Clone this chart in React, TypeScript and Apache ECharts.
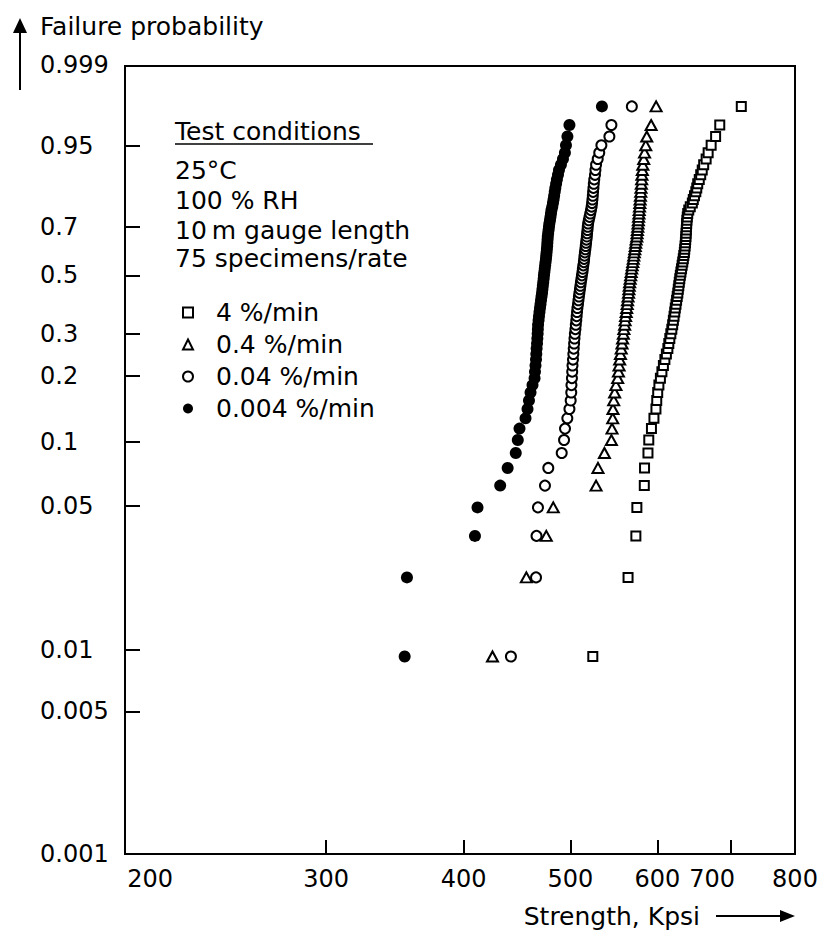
import React, { useEffect, useRef } from "react";
import * as echarts from "echarts";

// ---- data (strength in kpsi, sorted ascending; 75 specimens per rate) ----
const SPECIMENS = 75;
const seriesNames = ["4 %/min", "0.4 %/min", "0.04 %/min", "0.004 %/min"];

const strength4 = [
  524.1, 564.2, 573.5, 574.7, 583.7, 584.0, 588.2, 589.2, 592.5, 595.6,
  598.1, 599.1, 600.3, 601.8, 603.7, 605.6, 607.5, 609.4, 611.3, 613.2,
  614.4, 615.7, 617.0, 618.3, 619.4, 620.3, 621.2, 622.1, 622.8, 623.7,
  624.5, 625.3, 626.1, 626.7, 627.4, 628.0, 628.7, 629.4, 630.2, 631.0,
  631.8, 632.6, 633.3, 634.0, 634.7, 635.2, 635.7, 636.1, 636.5, 636.8,
  637.0, 637.3, 637.6, 637.8, 638.1, 638.6, 639.2, 640.6, 642.6, 645.4,
  646.7, 648.3, 650.1, 651.4, 652.7, 654.8, 656.8, 658.9, 660.9, 664.3,
  667.1, 671.3, 677.6, 683.5, 715.0,
];
const strength04 = [
  424.9, 456.1, 475.5, 482.5, 527.7, 529.8, 537.0, 544.9, 545.6, 546.4,
  546.7, 547.5, 548.6, 550.1, 552.1, 553.0, 553.7, 554.4, 555.3, 556.2,
  557.1, 557.8, 558.7, 559.3, 560.2, 560.7, 561.3, 562.0, 562.6, 563.2,
  563.6, 564.2, 564.8, 565.2, 565.6, 566.1, 566.7, 567.3, 567.9, 568.5,
  569.1, 569.8, 570.4, 571.0, 571.6, 572.2, 572.8, 573.3, 573.8, 574.6,
  574.9, 575.3, 575.8, 576.1, 576.5, 576.8, 577.2, 577.5, 577.9, 578.3,
  578.6, 579.0, 579.4, 579.7, 580.1, 580.5, 580.8, 581.3, 581.9, 583.0,
  584.0, 585.5, 586.7, 592.1, 598.3,
];
const strength004 = [
  441.6, 465.4, 465.9, 467.3, 474.2, 477.5, 491.1, 493.5, 494.5, 496.9,
  499.1, 500.4, 501.0, 501.2, 501.7, 502.0, 502.3, 502.8, 503.2, 503.6,
  504.0, 504.4, 504.8, 505.4, 505.8, 506.3, 506.7, 507.1, 507.5, 508.1,
  508.6, 509.1, 509.6, 510.2, 510.7, 511.2, 511.8, 512.3, 512.9, 513.3,
  513.8, 514.4, 514.7, 515.1, 515.5, 516.0, 516.4, 516.8, 517.2, 517.6,
  517.9, 518.3, 518.6, 519.0, 519.7, 520.5, 521.3, 522.1, 522.8, 523.3,
  523.7, 524.1, 524.4, 524.8, 525.2, 525.7, 526.5, 527.0, 527.7, 529.5,
  531.2, 533.6, 542.6, 544.9, 568.7,
];
const strength0004 = [
  353.6, 355.3, 409.6, 411.8, 431.8, 438.6, 446.1, 448.0, 449.6, 455.3,
  457.2, 458.6, 460.1, 462.0, 464.0, 464.4, 464.9, 465.4, 465.7, 466.0,
  466.4, 466.7, 467.0, 467.2, 467.4, 467.9, 468.3, 468.8, 469.3, 469.8,
  470.3, 470.8, 471.3, 471.7, 472.1, 472.5, 472.9, 473.2, 473.6, 474.0,
  474.4, 474.8, 475.2, 475.5, 475.8, 476.1, 476.4, 476.6, 476.8, 477.0,
  477.4, 477.8, 478.2, 478.6, 479.2, 479.7, 480.2, 480.7, 481.5, 482.2,
  482.8, 483.4, 484.0, 484.6, 485.4, 486.2, 487.3, 488.3, 490.3, 492.4,
  494.4, 495.5, 497.0, 499.1, 534.2,
];

const probLabels = [0.999, 0.95, 0.7, 0.5, 0.3, 0.2, 0.1, 0.05, 0.01, 0.005, 0.001];
const probTickMarks = [0.95, 0.7, 0.5, 0.3, 0.2, 0.1, 0.05, 0.01, 0.005];
const strengthLabels = [200, 300, 400, 500, 600, 700, 800];
const strengthTickMarks = [300, 400, 500, 600, 700];
const conditionLines = ["25°C", "100 % RH", "10\u2009m gauge length", "75 specimens/rate"];

// ---- scales ----
const weibull = (F: number) => Math.log(-Math.log(1 - F));
const medianRank = (i: number, n: number) => (i - 0.3) / (n + 0.4);
const toPoints = (arr: number[]) =>
  arr.map((s, i) => [Math.log10(s), weibull(medianRank(i + 1, SPECIMENS))]);

const FONT = "DejaVu Sans";
const INK = "#000";

export default function App() {
  const ref = useRef<HTMLDivElement>(null);
  useEffect(() => {
    if (!ref.current) return;
    const chart = echarts.init(ref.current, undefined, { renderer: "svg" });
    const hollow = { color: "#fff", borderColor: INK, borderWidth: 2, opacity: 1 };
    const textStyle = (text: string, align: string) => ({
      text, fontSize: 25, fontFamily: FONT, fill: INK,
      align, verticalAlign: "middle", textAlign: align, textVerticalAlign: "middle",
    });
    const option: any = {
      animation: false,
      backgroundColor: "#fff",
      textStyle: { fontFamily: FONT, color: INK },
      grid: {
        left: 125, right: 26, top: 66, bottom: 80,
        show: true, borderColor: INK, borderWidth: 2,
        outerBoundsMode: "none", containLabel: false,
      },
      legend: {
        orient: "vertical",
        left: 177, top: 295,
        itemWidth: 10, itemHeight: 10, itemGap: 7,
        selectedMode: false,
        data: seriesNames,
        itemStyle: { borderWidth: 2, opacity: 1 },
        textStyle: { fontSize: 25, fontFamily: FONT, color: INK, lineHeight: 25, padding: [0, 0, 0, 18] },
      },
      xAxis: {
        type: "value",
        min: Math.log10(197),
        max: Math.log10(800),
        axisLine: { show: true, onZero: false, lineStyle: { color: INK, width: 2 } },
        axisTick: {
          show: true, inside: true, length: 14,
          lineStyle: { color: INK, width: 2 },
          customValues: strengthTickMarks.map((v) => Math.log10(v)),
        },
        axisLabel: {
          customValues: strengthLabels.map((v) => Math.log10(v)),
          formatter: (v: number) => {
            const s = Math.round(Math.pow(10, v));
            if (s === 200) return "{l|200}";
            if (s === 700) return "{r|700}";
            return String(s);
          },
          margin: 13, fontSize: 24, fontFamily: FONT, color: INK,
          rich: {
            l: { padding: [0, 0, 0, 36], fontSize: 24, fontFamily: FONT, color: INK },
            r: { padding: [0, 38, 0, 0], fontSize: 24, fontFamily: FONT, color: INK },
          },
        },
        splitLine: { show: false },
      },
      yAxis: {
        type: "value",
        min: weibull(0.001),
        max: 2.0,
        axisLine: { show: true, onZero: false, lineStyle: { color: INK, width: 2 } },
        axisTick: {
          show: true, inside: true, length: 15,
          lineStyle: { color: INK, width: 2 },
          customValues: probTickMarks.map(weibull),
        },
        axisLabel: {
          customValues: probLabels.map(weibull),
          formatter: (v: number) => {
            const p = probLabels.find((q) => Math.abs(weibull(q) - v) < 1e-6);
            if (p === undefined) return "";
            if (p === 0.999) return "{t|0.999}";
            return String(p);
          },
          margin: 85, align: "left", fontSize: 24, fontFamily: FONT, color: INK,
          rich: { t: { padding: [0, 0, 14, 0], fontSize: 24, fontFamily: FONT, color: INK } },
        },
        splitLine: { show: false },
      },
      series: [
        {
          name: seriesNames[0], type: "scatter", symbol: "rect", symbolSize: 9,
          itemStyle: hollow, data: toPoints(strength4), z: 2,
        },
        {
          name: seriesNames[1], type: "scatter", symbol: "triangle", symbolSize: [11, 10],
          itemStyle: hollow, data: toPoints(strength04), z: 2,
        },
        {
          name: seriesNames[2], type: "scatter", symbol: "circle", symbolSize: 10,
          itemStyle: hollow, data: toPoints(strength004), z: 2,
        },
        {
          name: seriesNames[3], type: "scatter", symbol: "circle", symbolSize: 12,
          itemStyle: { color: INK, opacity: 1 }, data: toPoints(strength0004), z: 2,
        },
      ],
      graphic: [
        // y-axis title with arrow
        { type: "line", shape: { x1: 20, y1: 32, x2: 20, y2: 90 }, style: { stroke: INK, lineWidth: 2 } },
        { type: "polygon", shape: { points: [[13, 33], [20, 18], [27, 33]] }, style: { fill: INK } },
        { type: "text", x: 40, y: 26, style: textStyle("Failure probability", "left") },
        // x-axis title with arrow
        { type: "text", x: 700, y: 916, style: textStyle("Strength, Kpsi", "right") },
        { type: "line", shape: { x1: 716, y1: 916, x2: 782, y2: 916 }, style: { stroke: INK, lineWidth: 2 } },
        { type: "polygon", shape: { points: [[780, 910], [795, 916], [780, 922]] }, style: { fill: INK } },
        // test conditions block
        { type: "text", x: 175, y: 131, style: textStyle("Test conditions", "left") },
        { type: "line", shape: { x1: 175, y1: 144, x2: 373, y2: 144 }, style: { stroke: INK, lineWidth: 1.5 } },
        ...conditionLines.map((t, i) => ({
          type: "text", x: 175, y: [170, 200, 230, 258][i],
          style: textStyle(t, "left"),
        })),
      ],
    };
    chart.setOption(option);
    return () => chart.dispose();
  }, []);
  return (
    <div
      ref={ref}
      style={{ position: "fixed", left: 0, top: 0, width: 821, height: 934, background: "#fff" }}
    />
  );
}
